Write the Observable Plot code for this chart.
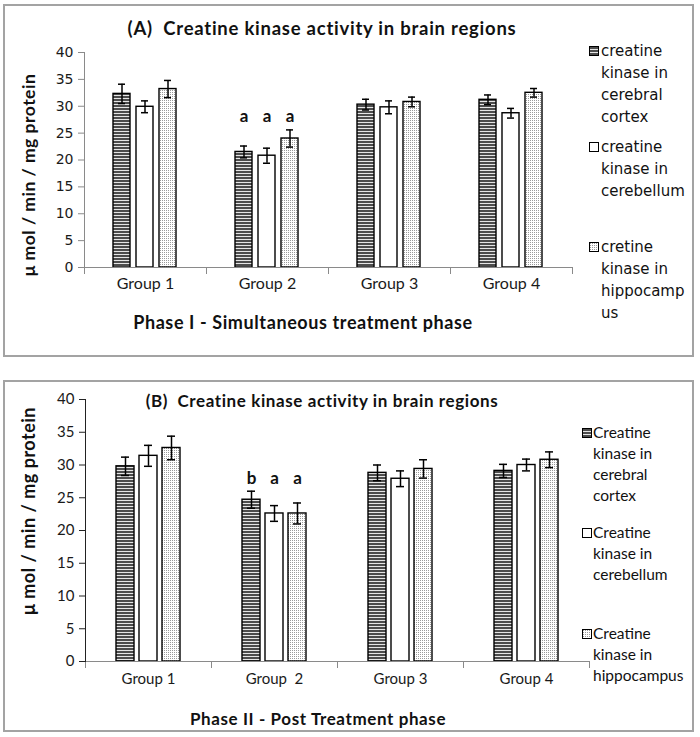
<!DOCTYPE html>
<html><head><meta charset="utf-8">
<script src="https://cdn.jsdelivr.net/npm/d3@7"></script>
<script src="https://cdn.jsdelivr.net/npm/@observablehq/plot@0.6"></script>
<style>
body{margin:0;background:#fff}
#wrap{position:relative;width:700px;height:737px;overflow:hidden;background:#fff}
.panel{position:absolute;border:2px solid #a3a3a3;box-sizing:border-box}
.abs{position:absolute;white-space:pre;line-height:1;color:#111}
.plot{position:absolute;left:0}
.plot text{white-space:pre}
.leg{position:absolute}
.leg .item{position:absolute;left:0}
.leg .sw{position:absolute;left:0;width:10px;height:10px;box-sizing:border-box;border:1px solid #000}
.leg .tx{position:absolute;white-space:pre;color:#111}
</style></head>
<body>
<svg width="0" height="0" style="position:absolute">
 <defs>
  <pattern id="stripe" patternUnits="userSpaceOnUse" width="4" height="3">
   <rect width="4" height="3" fill="#e6e6e6"/><rect width="4" height="2" fill="#4d4d4d"/>
  </pattern>
  <pattern id="dots" patternUnits="userSpaceOnUse" width="2" height="2">
   <rect width="2" height="2" fill="#ffffff"/><rect width="1" height="1" fill="#9a9a9a"/>
  </pattern>
 </defs>
</svg>
<div id="wrap"></div>
<script>
// ---------- data ----------
const groups = ["Group 1", "Group 2", "Group 3", "Group 4"];
const groupLabelsA = ["Group 1", "Group 2", "Group 3", "Group 4"];
const groupLabelsB = ["Group 1", "Group  2", "Group 3", "Group 4"];
const yTicks = [0, 5, 10, 15, 20, 25, 30, 35, 40];

const seriesA = ["creatine kinase in cerebral cortex", "creatine kinase in cerebellum", "cretine kinase in hippocampus"];
const legendLinesA = [["creatine", "kinase in", "cerebral", "cortex"], ["creatine", "kinase in", "cerebellum"], ["cretine", "kinase in", "hippocamp", "us"]];
const cortexA = [32.3, 21.5, 30.3, 31.2];
const cortexAErr = [1.8, 1.1, 1.0, 0.9];
const cerebellumA = [29.9, 20.8, 29.8, 28.7];
const cerebellumAErr = [1.1, 1.4, 1.2, 0.9];
const hippocampusA = [33.2, 24.0, 30.8, 32.5];
const hippocampusAErr = [1.6, 1.6, 0.9, 0.8];
const lettersA = [["Group 2", "a", "a", "a"]];

const seriesB = ["Creatine kinase in cerebral cortex", "Creatine kinase in cerebellum", "Creatine kinase in hippocampus"];
const legendLinesB = [["Creatine", "kinase in", "cerebral", "cortex"], ["Creatine", "kinase in", "cerebellum"], ["Creatine", "kinase in", "hippocampus"]];
const cortexB = [29.8, 24.7, 28.8, 29.1];
const cortexBErr = [1.4, 1.3, 1.2, 1.0];
const cerebellumB = [31.4, 22.6, 27.9, 30.0];
const cerebellumBErr = [1.6, 1.2, 1.2, 0.9];
const hippocampusB = [32.6, 22.6, 29.4, 30.8];
const hippocampusBErr = [1.8, 1.6, 1.4, 1.2];
const lettersB = [["Group 2", "b", "a", "a"]];

const titleA = "(A)  Creatine kinase activity in brain regions";
const titleB = "(B)  Creatine kinase activity in brain regions";
const xTitleA = "Phase I - Simultaneous treatment phase";
const xTitleB = "Phase II - Post Treatment phase";
const yTitle = "\u03bc mol / min / mg protein";

const fills = ["url(#stripe)", "#ffffff", "url(#dots)"];

// ---------- helpers ----------
function buildRows(series, vals, errs) {
  const rows = [];
  groups.forEach((g, i) => series.forEach((s, k) => rows.push({group: g, series: s, value: vals[k][i], err: errs[k][i]})));
  return rows;
}
function buildLetters(series, letters, rows) {
  const out = [];
  letters.forEach(([g, ...ls]) => {
    const top = d3.max(rows.filter(r => r.group === g), r => r.value + r.err);
    ls.forEach((l, k) => out.push({group: g, series: series[k], top, letter: l}));
  });
  return out;
}

const wrap = document.getElementById("wrap");
function addDiv(cls, style, text) {
  const d = document.createElement("div");
  d.className = cls;
  Object.assign(d.style, style);
  if (text != null) d.textContent = text;
  wrap.appendChild(d);
  return d;
}

function drawPanel(o) {
  const rows = buildRows(o.series, o.vals, o.errs);
  const letters = buildLetters(o.series, o.letters, rows);
  const innerH = o.height - o.mt - o.mb;
  const chart = Plot.plot({
    width: 700, height: o.height,
    marginTop: o.mt, marginBottom: o.mb, marginLeft: o.ml, marginRight: o.mr,
    style: {background: "transparent", overflow: "visible"},
    fx: {domain: groups, padding: 0, axis: null},
    x: {domain: o.series, paddingInner: o.pi, paddingOuter: o.po, axis: null},
    y: {domain: [0, 40], axis: null},
    color: {domain: o.series, range: fills},
    marks: [
      Plot.barY(rows, {fx: "group", x: "series", y: "value", fill: "series", stroke: "#000", strokeWidth: 1.4}),
      Plot.ruleX(rows, {fx: "group", x: "series", y1: d => d.value - d.err, y2: d => d.value + d.err, stroke: "#000", strokeWidth: 1.5}),
      Plot.tickY(rows, {fx: "group", x: "series", y: d => d.value + d.err, insetLeft: 5, insetRight: 5, stroke: "#000", strokeWidth: 1.5}),
      Plot.tickY(rows, {fx: "group", x: "series", y: d => d.value - d.err, insetLeft: 5, insetRight: 5, stroke: "#000", strokeWidth: 1.5}),
      Plot.ruleY([0], {stroke: o.xAxisColor, strokeWidth: 1}),
      Plot.frame({anchor: "left", insetTop: innerH, insetBottom: -6, stroke: o.xAxisColor, strokeWidth: 1}),
      Plot.frame({anchor: "right", insetTop: innerH, insetBottom: -6, stroke: o.xAxisColor, strokeWidth: 1}),
      Plot.frame({anchor: "left", facetAnchor: "left", stroke: o.yAxisColor, strokeWidth: 1}),
      Plot.axisY({ticks: yTicks, tickSize: 6, tickPadding: 5, stroke: o.yAxisColor, label: null,
        fontSize: o.tickFont, fontFamily: o.tickFamily, fill: "#1a1a1a"}),
      Plot.text(groups, {fx: d => d, text: (d, i) => o.groupLabels[i], frameAnchor: "bottom", dy: o.groupDy,
        fontSize: o.groupFont, fontFamily: "Lato", fill: "#1a1a1a"}),
      Plot.text(letters, {fx: "group", x: "series", y: "top", text: "letter", dy: -13,
        fontSize: 17, fontWeight: "bold", fontFamily: "Lato", fill: "#111"})
    ]
  });
  chart.classList.add("plot");
  chart.style.top = o.top + "px";
  wrap.appendChild(chart);

  // legend
  const leg = addDiv("leg", {left: o.legX + "px", top: "0px"});
  o.legendLines.forEach((lines, k) => {
    const it = document.createElement("div");
    it.className = "item";
    it.style.top = o.legTops[k] + "px";
    const sw = document.createElement("div");
    sw.className = "sw";
    sw.style.top = (o.legLH / 2 - 5) + "px";
    sw.innerHTML = `<svg width="8" height="8" style="display:block"><rect width="8" height="8" fill="${fills[k]}"/></svg>`;
    it.appendChild(sw);
    const tx = document.createElement("div");
    tx.className = "tx";
    Object.assign(tx.style, {left: o.legTextDx + "px", top: "0px", fontFamily: o.legFamily, fontSize: o.legFont + "px", lineHeight: o.legLH + "px"});
    tx.textContent = lines.join("\n");
    it.appendChild(tx);
    leg.appendChild(it);
  });
}

// ---------- frames ----------
addDiv("panel", {left: "3px", top: "4px", width: "691px", height: "353px"});
addDiv("panel", {left: "3px", top: "380px", width: "691px", height: "352px"});

// ---------- panel A ----------
drawPanel({
  top: 0, height: 360, mt: 52, mb: 93, ml: 82, mr: 127, pi: 0.25, po: 1.18,
  series: seriesA, vals: [cortexA, cerebellumA, hippocampusA], errs: [cortexAErr, cerebellumAErr, hippocampusAErr],
  letters: lettersA, groupLabels: groupLabelsA,
  xAxisColor: "#8a8a8a", yAxisColor: "#8a8a8a", tickFont: 14, tickFamily: "DejaVu Sans", groupFont: 16, groupDy: 21,
  legendLines: legendLinesA, legX: 589, legTops: [40, 136, 236], legLH: 22, legTextDx: 12, legFont: 15, legFamily: "DejaVu Sans"
});
// ---------- panel B ----------
drawPanel({
  top: 360, height: 377, mt: 39, mb: 76, ml: 85, mr: 111, pi: 0.21, po: 1.29,
  series: seriesB, vals: [cortexB, cerebellumB, hippocampusB], errs: [cortexBErr, cerebellumBErr, hippocampusBErr],
  letters: lettersB, groupLabels: groupLabelsB,
  xAxisColor: "#8a8a8a", yAxisColor: "#222", tickFont: 15, tickFamily: "Lato", groupFont: 15, groupDy: 22,
  legendLines: legendLinesB, legX: 582, legTops: [422, 522, 623], legLH: 21, legTextDx: 11, legFont: 15.5, legFamily: "Lato"
});

// ---------- titles ----------
addDiv("abs", {left: "322px", top: "28px", transform: "translate(-50%,-50%)", font: "bold 18.5px Lato", letterSpacing: "0.75px"}, titleA);
addDiv("abs", {left: "322px", top: "400px", transform: "translate(-50%,-50%)", font: "bold 17px Lato", letterSpacing: "0.6px"}, titleB);
addDiv("abs", {left: "303px", top: "322px", transform: "translate(-50%,-50%)", font: "bold 18px Lato", letterSpacing: "0.6px"}, xTitleA);
addDiv("abs", {left: "318px", top: "718px", transform: "translate(-50%,-50%)", font: "bold 17px Lato", letterSpacing: "0.6px"}, xTitleB);
addDiv("abs", {left: "28px", top: "175px", transform: "translate(-50%,-50%) rotate(-90deg)", font: "bold 17.5px Lato", letterSpacing: "0.5px"}, yTitle);
addDiv("abs", {left: "28px", top: "511px", transform: "translate(-50%,-50%) rotate(-90deg)", font: "bold 18px Lato", letterSpacing: "0.5px"}, yTitle);
</script>
</body></html>
